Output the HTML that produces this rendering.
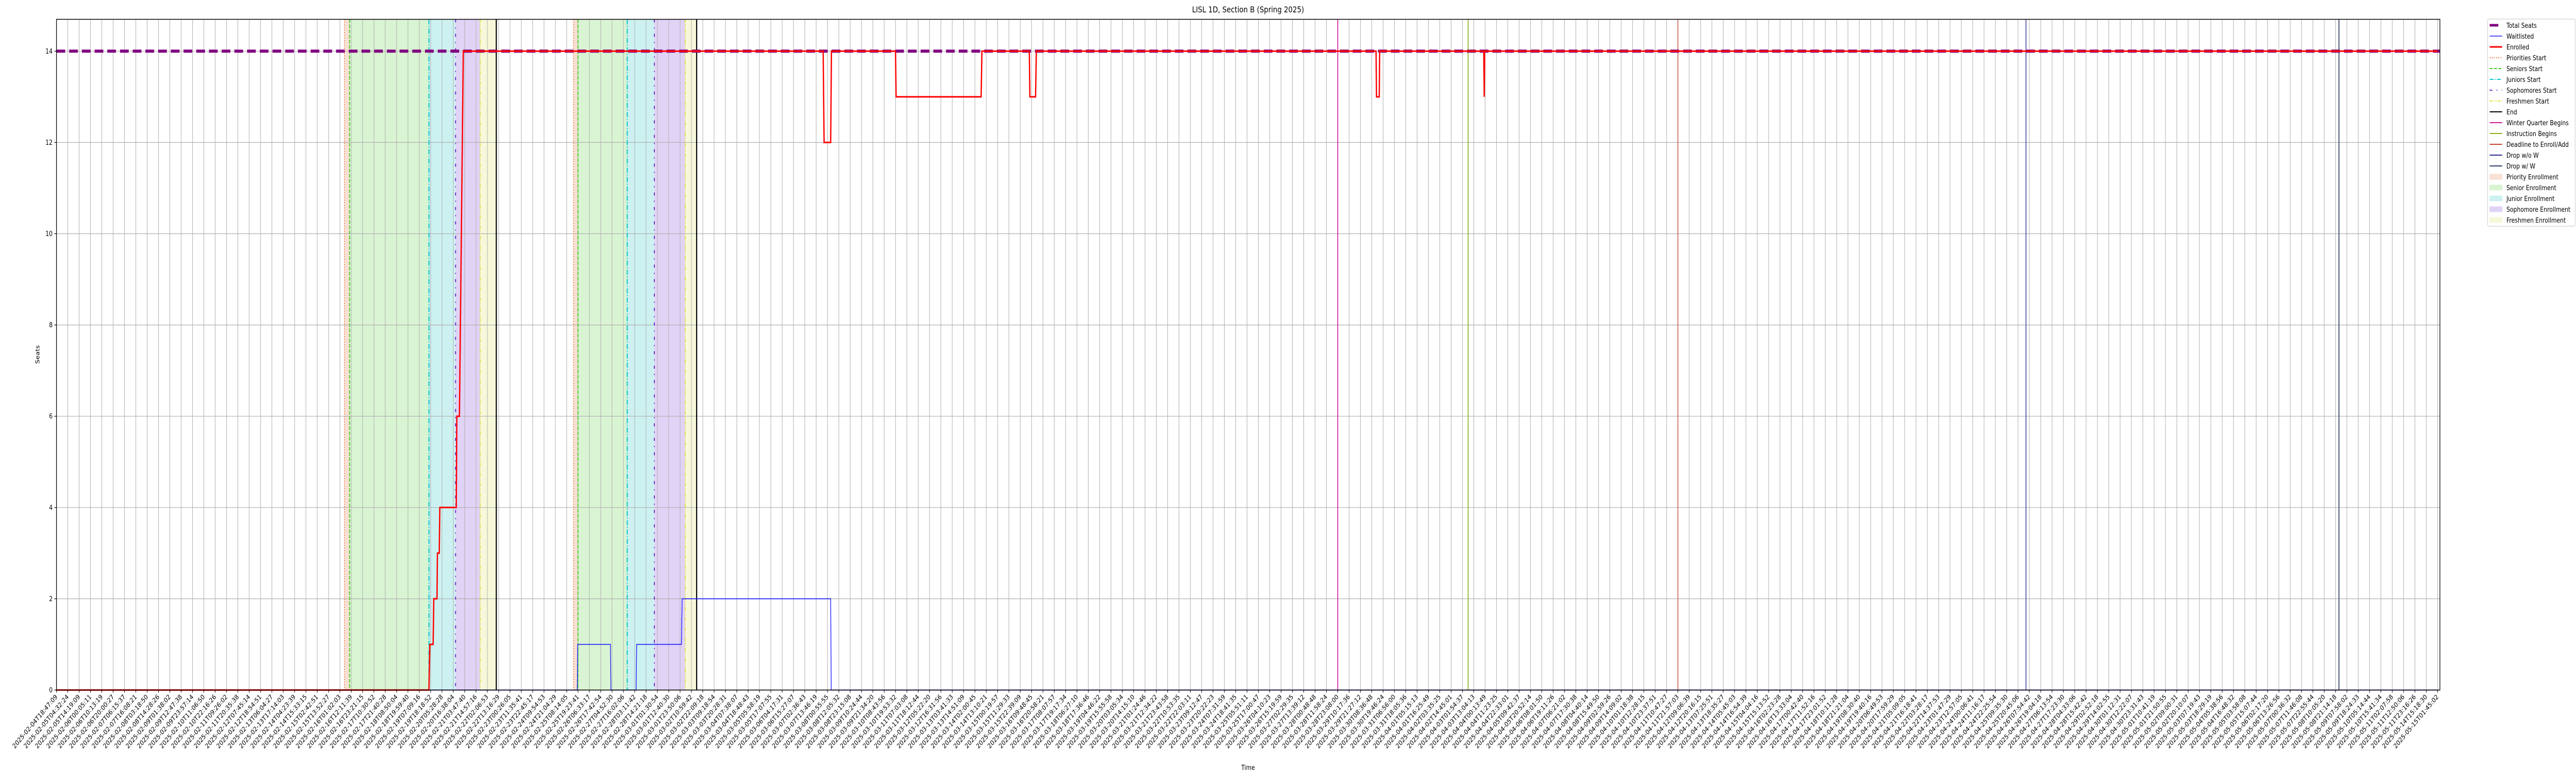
<!DOCTYPE html>
<html><head><meta charset="utf-8">
<style>
html,body{margin:0;padding:0;background:#fff;overflow:hidden;width:100%;height:100%;}
svg{display:block;position:fixed;left:0;top:0;width:100vw;height:100vh;font-family:"DejaVu Sans","Liberation Sans",sans-serif;}
</style></head>
<body>
<svg id="chart" viewBox="0 0 6000 1500" preserveAspectRatio="none" xmlns="http://www.w3.org/2000/svg">
<rect x="0" y="0" width="6000" height="1500" fill="#fff"/>
<g id="spans"></g>
<g id="grid"></g>
<g id="events"></g>
<g id="series"></g>
<rect x="131.5" y="37.5" width="5551.5" height="1301.5" fill="none" stroke="#000" stroke-width="1.5"/>
<g id="yaxis"></g>
<g id="xaxis"></g>
<text x="2907" y="24" font-size="16" text-anchor="middle">LISL 1D, Section B (Spring 2025)</text>
<text x="0" y="0" font-size="13" text-anchor="middle" transform="translate(92,688) rotate(-90)">Seats</text>
<text x="2907" y="1494" font-size="13" text-anchor="middle">Time</text>
<g id="legend"></g>
</svg>
<script>
// ---- data ----
const yTicks = [0, 2, 4, 6, 8, 10, 12, 14];
const totalSeats = 14;
const enrolledIdx = [0, 32.85, 32.93, 33.22, 33.28, 33.56, 33.6, 33.76, 33.81, 35.26, 35.31, 35.54, 35.88, 67.62, 67.7, 68.28, 68.35, 74.0, 74.05, 81.55, 81.62, 85.8, 85.85, 86.35, 86.42, 116.38, 116.42, 116.66, 116.7, 125.88, 125.92, 125.96, 210];
const enrolledVal = [0, 0, 1, 1, 2, 2, 3, 3, 4, 4, 6, 6, 14, 14, 12, 12, 14, 14, 13, 13, 14, 14, 13, 13, 14, 14, 13, 13, 14, 14, 13, 14, 14];
const waitIdx = [0, 45.93, 45.97, 48.86, 48.9, 51.12, 51.17, 55.12, 55.18, 68.28, 68.33, 210];
const waitVal = [0, 0, 1, 1, 0, 0, 1, 1, 2, 2, 0, 0];
const priorityPeriods = [[25.4, 25.85], [45.61, 45.99]];
const seniorPeriods = [[25.85, 32.85], [45.99, 50.34]];
const juniorPeriods = [[32.85, 35.2], [50.34, 52.73]];
const sophomorePeriods = [[35.2, 37.37], [52.73, 55.45]];
const freshmenPeriods = [[37.37, 38.79], [55.45, 56.46]];
const priorityStarts = [25.4, 45.61];
const seniorStarts = [25.85, 45.99];
const juniorStarts = [32.85, 50.34];
const sophomoreStarts = [35.2, 52.73];
const freshmenStarts = [37.37, 55.45];
const endMarks = [38.79, 56.46];
const winterQuarter = [113.0];
const instructionBegins = [124.5];
const deadlineAdd = [143.0];
const dropNoW = [173.7];
const dropW = [201.3];
const tickAnchorsIdx = [0, 1, 2, 3, 4, 5, 6, 7, 201, 202, 203, 204, 205, 206, 207, 208, 209, 210];
const tickAnchorsTime = ["2025-02-04T18:47:09","2025-02-05T04:32:24","2025-02-05T14:19:09","2025-02-06T00:05:11","2025-02-06T10:13:19","2025-02-06T20:00:27","2025-02-07T06:15:37","2025-02-07T16:08:21","2025-05-08T21:14:18","2025-05-09T07:58:02","2025-05-09T18:24:33","2025-05-10T05:14:44","2025-05-10T15:41:34","2025-05-11T02:07:58","2025-05-11T12:50:06","2025-05-11T23:16:26","2025-05-14T15:18:30","2025-05-15T01:45:02"];
const tickCount = 211;

// ---- scales ----
const X0 = 131.5, DX = 26.41, Y0 = 1339, DY = 88.55;
function xS(i){ return X0 + i * DX; }
function yS(v){ return Y0 - v * DY; }
const NS = "http://www.w3.org/2000/svg";
function mk(tag, attrs, parent){ const e = document.createElementNS(NS, tag); for (const k in attrs) e.setAttribute(k, attrs[k]); parent.appendChild(e); return e; }

function pad(n){ return String(n).padStart(2, "0"); }
function fmt(ms){ const d = new Date(ms); return d.getUTCFullYear()+"-"+pad(d.getUTCMonth()+1)+"-"+pad(d.getUTCDate())+"T"+pad(d.getUTCHours())+":"+pad(d.getUTCMinutes())+":"+pad(d.getUTCSeconds()); }
const tickLabels = [];
for (let t = 0; t < tickCount; t++) {
  const k = tickAnchorsIdx.indexOf(t);
  if (k >= 0) { tickLabels.push(tickAnchorsTime[k]); continue; }
  let a = 0; while (tickAnchorsIdx[a+1] < t) a++;
  const ta = Date.parse(tickAnchorsTime[a]+"Z"), tb = Date.parse(tickAnchorsTime[a+1]+"Z");
  const f = (t - tickAnchorsIdx[a]) / (tickAnchorsIdx[a+1] - tickAnchorsIdx[a]);
  tickLabels.push(fmt(ta + f * (tb - ta) + ((t * 7919) % 60) * 1000));
}

// ---- spans ----
const spans = document.getElementById("spans");
function drawSpans(periods, color, name){
  periods.forEach(p => {
    const r = mk("rect", {x: xS(p[0]), y: 37.5, width: xS(p[1]) - xS(p[0]), height: 1301.5, fill: color}, spans);
    
    
  });
}
drawSpans(priorityPeriods, "#f8e0d4", "priority-enrollment-span");
drawSpans(seniorPeriods, "#d9f4d2", "senior-enrollment-span");
drawSpans(juniorPeriods, "#cdf1f1", "junior-enrollment-span");
drawSpans(sophomorePeriods, "#e1d3f6", "sophomore-enrollment-span");
drawSpans(freshmenPeriods, "#f7f8da", "freshmen-enrollment-span");

// ---- grid & axes ----
const grid = document.getElementById("grid"), xaxis = document.getElementById("xaxis"), yaxis = document.getElementById("yaxis");
for (let t = 0; t < tickCount; t++) {
  const x = xS(t);
  const g = mk("line", {x1: x, y1: 37.5, x2: x, y2: Y0, stroke: "#b0b0b0", "stroke-width": 1.2}, grid);
  
  
  const tk = mk("line", {x1: x, y1: Y0, x2: x, y2: Y0 + 5, stroke: "#000", "stroke-width": 1.2}, xaxis);
  
  
  const tx = mk("text", {x: 0, y: 0, "font-size": 13, "text-anchor": "end", transform: "translate(" + (x + 3) + "," + (Y0 + 14) + ") rotate(-45)"}, xaxis);
  tx.textContent = tickLabels[t];
  
  
}
yTicks.forEach(v => {
  const y = yS(v);
  const g = mk("line", {x1: X0, y1: y, x2: 5683, y2: y, stroke: "#b0b0b0", "stroke-width": 1.2}, grid);
  
  
  const tk = mk("line", {x1: X0 - 5, y1: y, x2: X0, y2: y, stroke: "#000", "stroke-width": 1.2}, yaxis);
  
  
  const tx = mk("text", {x: X0 - 9, y: y + 4.5, "font-size": 13, "text-anchor": "end"}, yaxis);
  tx.textContent = v;
  
  
});

// ---- event lines ----
const ev = document.getElementById("events");
function vlines(arr, color, w, dash, name){
  arr.forEach(i => {
    const a = {x1: xS(i), y1: 37.5, x2: xS(i), y2: Y0, stroke: color, "stroke-width": w};
    if (dash) a["stroke-dasharray"] = dash;
    const l = mk("line", a, ev);
    
    
  });
}
vlines(priorityStarts, "#ee7035", 2, "2 3", "priorities-start-line");
vlines(seniorStarts, "#44cc22", 2.2, "7 3", "seniors-start-line");
vlines(juniorStarts, "#11c6cf", 2.5, "10 3 2 3", "juniors-start-line");
vlines(sophomoreStarts, "#6a22d0", 2.2, "6 10 2 10", "sophomores-start-line");
vlines(freshmenStarts, "#dede30", 2, "7 3 2 3 2 3", "freshmen-start-line");
vlines(endMarks, "#000", 2.6, null, "end-line");
vlines(winterQuarter, "#d01a9a", 2, null, "winter-quarter-begins-line");
vlines(instructionBegins, "#8db01a", 2, null, "instruction-begins-line");
vlines(deadlineAdd, "#c8442a", 1.5, null, "deadline-to-enroll-line");
vlines(dropNoW, "#2b2b8c", 1.6, null, "drop-without-w-line");
vlines(dropW, "#2e3f62", 2, null, "drop-with-w-line");

// ---- series ----
const ser = document.getElementById("series");
const ts = mk("line", {x1: X0, y1: yS(totalSeats), x2: 5683, y2: yS(totalSeats), stroke: "#800080", "stroke-width": 6, "stroke-dasharray": "20.3 9.3"}, ser);


function poly(xs, vs, color, w, name){
  const pts = xs.map((i, k) => xS(i).toFixed(2) + "," + yS(vs[k]).toFixed(2)).join(" ");
  const p = mk("polyline", {points: pts, fill: "none", stroke: color, "stroke-width": w, "stroke-linejoin": "miter"}, ser);
  
  
}
poly(waitIdx, waitVal, "#1a1aff", 1.6, "waitlisted-line");
poly(enrolledIdx, enrolledVal, "#ff0000", 3, "enrolled-line");

// ---- legend ----
const lg = document.getElementById("legend");
const box = mk("rect", {x: 5794, y: 37, width: 204, height: 402, rx: 3, fill: "#fff", stroke: "#d0d0d0", "stroke-width": 1.2}, lg);


const legendLabels = ["Total Seats","Waitlisted","Enrolled","Priorities Start","Seniors Start","Juniors Start","Sophomores Start","Freshmen Start","End","Winter Quarter Begins","Instruction Begins","Deadline to Enroll/Add","Drop w/o W","Drop w/ W","Priority Enrollment","Senior Enrollment","Junior Enrollment","Sophomore Enrollment","Freshmen Enrollment"];
const legendStyles = [
  ["line","#800080",5,"20 9"],["line","#1a1aff",1.6,null],["line","#ff0000",3,null],
  ["line","#ee7035",2,"2 3"],["line","#44cc22",2,"7 3"],["line","#11c6cf",2,"9 3 2 3"],
  ["line","#6a22d0",2,"6 10 2 10"],["line","#dede30",2,"6 3 2 3 2 3"],["line","#000",2,null],
  ["line","#d01a9a",2,null],["line","#8db01a",2,null],["line","#c8442a",2,null],
  ["line","#2b2b8c",2,null],["line","#2e3f62",2,null],
  ["rect","#f8e0d4"],["rect","#d9f4d2"],["rect","#cdf1f1"],["rect","#e1d3f6"],["rect","#f7f8da"]];
legendLabels.forEach((lab, k) => {
  const cy = 49 + k * 21;
  const s = legendStyles[k];
  let h;
  if (s[0] === "line") {
    const a = {x1: 5799, y1: cy, x2: 5828, y2: cy, stroke: s[1], "stroke-width": s[2]};
    if (s[3]) a["stroke-dasharray"] = s[3];
    h = mk("line", a, lg);
  } else {
    h = mk("rect", {x: 5799, y: cy - 5, width: 29, height: 10, fill: s[1], stroke: s[1]}, lg);
  }
  
  
  const t = mk("text", {x: 5838, y: cy + 5, "font-size": 13}, lg);
  t.textContent = lab;
  
  
});
</script>
</body></html>
